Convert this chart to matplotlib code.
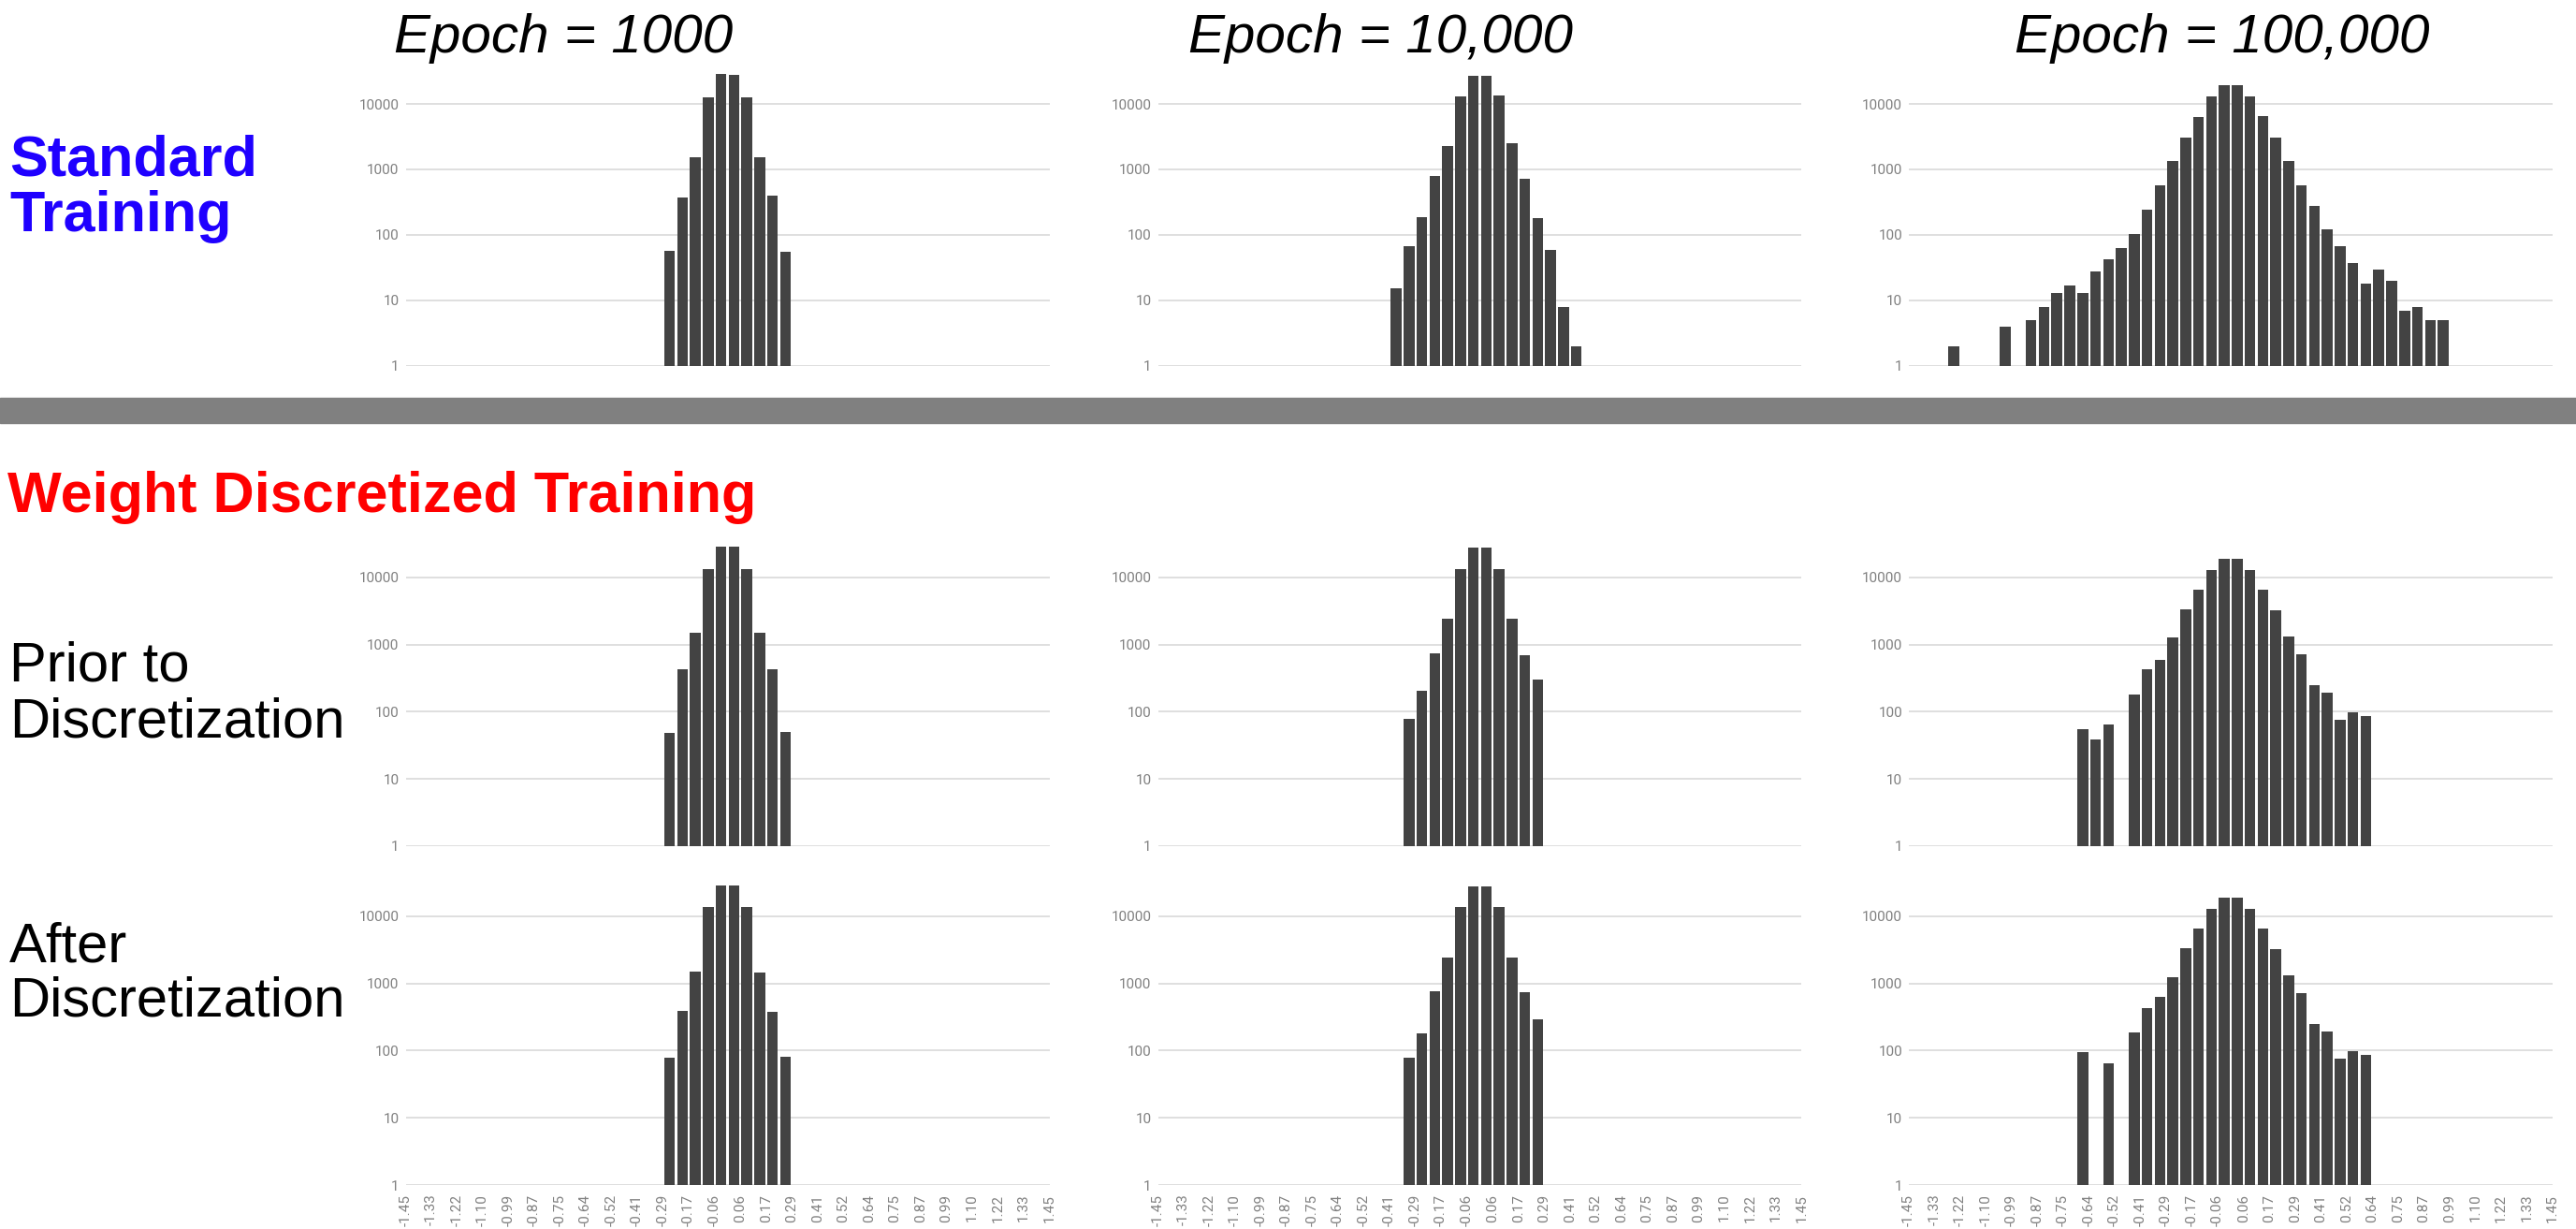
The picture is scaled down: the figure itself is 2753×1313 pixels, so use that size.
import matplotlib.pyplot as plt
from matplotlib.patches import Rectangle
import numpy as np

# 50 bins of width 0.058 from -1.45 to 1.45, labels on every second edge
edge_labels = ['-1.45', '-1.33', '-1.22', '-1.10', '-0.99', '-0.87', '-0.75', '-0.64', '-0.52',
               '-0.41', '-0.29', '-0.17', '-0.06', '0.06', '0.17', '0.29', '0.41', '0.52',
               '0.64', '0.75', '0.87', '0.99', '1.10', '1.22', '1.33', '1.45']
n_bins = 50

epoch_titles = ['Epoch = 1000', 'Epoch = 10,000', 'Epoch = 100,000']

# counts per bin, first value sits in bin "start"
std_1000_start = 20
std_1000 = [57, 370, 1535, 12800, 29000, 28100, 12800, 1550, 403, 55]
std_10000_start = 18
std_10000 = [15, 67, 189, 786, 2300, 13150, 27100, 27100, 13600, 2485, 720, 181, 58, 8, 2]
std_100000_start = 3
std_100000 = [2, 0, 0, 0, 4, 0, 5, 8, 13, 17, 13, 28, 43, 63, 103, 242, 575, 1356, 3085,
              6240, 12870, 19300, 19300, 12870, 6630, 3085, 1356, 565, 276, 121, 68, 37,
              18, 29, 20, 7, 8, 5, 5]

prior_1000_start = 20
prior_1000 = [48, 429, 1500, 13500, 28900, 28900, 13500, 1500, 429, 50]
prior_10000_start = 19
prior_10000 = [78, 207, 741, 2405, 13500, 28000, 28000, 13500, 2405, 703, 305]
prior_100000_start = 13
prior_100000 = [54, 38, 64, 0, 182, 424, 598, 1280, 3355, 6590, 12930, 19220, 19220, 12930,
                6590, 3250, 1335, 710, 246, 190, 76, 97, 86]

after_1000_start = 20
after_1000 = [78, 388, 1477, 13490, 28500, 28500, 13490, 1430, 376, 82]
after_10000_start = 19
after_10000 = [78, 180, 762, 2390, 13490, 27300, 27300, 13490, 2390, 730, 288]
after_100000_start = 13
after_100000 = [94, 0, 64, 0, 184, 428, 622, 1231, 3363, 6590, 12920, 18980, 18980, 12920,
                 6590, 3225, 1327, 714, 245, 192, 76, 98, 87]

rows = [
    [(std_1000_start, std_1000), (std_10000_start, std_10000), (std_100000_start, std_100000)],
    [(prior_1000_start, prior_1000), (prior_10000_start, prior_10000), (prior_100000_start, prior_100000)],
    [(after_1000_start, after_1000), (after_10000_start, after_10000), (after_100000_start, after_100000)],
]

W, H = 2753, 1313
fig = plt.figure(figsize=(W / 100, H / 100), dpi=100)

# axes placement in pixels: left edges, width, bottom of each row, px per decade
col_left = [433.5, 1237.5, 2040]
col_width = 688
row_bottom = [390.7, 903.7, 1266]
row_decade = [69.9, 71.7, 71.8]
top_exp = 4.6

bar_color = '#434343'
grid_color = '#d9d9d9'
tick_color = '#808080'

for r, row in enumerate(rows):
    for c, (start, counts) in enumerate(row):
        h = top_exp * row_decade[r]
        ax = fig.add_axes([col_left[c] / W, 1 - row_bottom[r] / H, col_width / W, h / H])
        counts = np.array(counts, dtype=float)
        pos = start + np.arange(len(counts)) + 0.5
        keep = counts > 0
        ax.set_yscale('log')
        ax.bar(pos[keep], counts[keep], width=0.84, color=bar_color, zorder=3)
        ax.set_ylim(1, 10 ** top_exp)
        ax.set_xlim(0, n_bins)
        ax.set_yticks([1, 10, 100, 1000, 10000])
        ax.set_yticklabels(['1', '10', '100', '1000', '10000'])
        ax.yaxis.set_minor_locator(plt.NullLocator())
        ax.grid(axis='y', color=grid_color, linewidth=1.2, zorder=0)
        for s in ax.spines.values():
            s.set_visible(False)
        ax.tick_params(axis='y', length=0, pad=5, labelsize=11, labelcolor=tick_color)
        ax.set_xticks(np.arange(0, n_bins + 1, 2))
        if r == 2:
            ax.set_xticklabels(edge_labels, rotation=90, fontsize=11, color=tick_color)
            ax.tick_params(axis='x', length=0, pad=7)
        else:
            ax.set_xticklabels([])
            ax.tick_params(axis='x', length=0)
        for lab in ax.get_xticklabels() + ax.get_yticklabels():
            lab.set_family('Roboto')

# column titles
title_x = [602, 1476, 2375]
for tx, t in zip(title_x, epoch_titles):
    fig.text(tx / W, 1 - 56 / H, t, ha='center', va='baseline', fontsize=42,
             style='italic', family='Liberation Sans')

# separator between the two groups
fig.patches.append(Rectangle((0, 1 - 452 / H), 1, 27 / H, transform=fig.transFigure,
                             color='#808080', zorder=0))

# row labels
fig.text(10 / W, 1 - 187 / H, 'Standard', fontsize=44, weight='bold', color='#1f00ff',
         family='Liberation Sans', va='baseline')
fig.text(10 / W, 1 - 247 / H, 'Training', fontsize=44, weight='bold', color='#1f00ff',
         family='Liberation Sans', va='baseline')
fig.text(8 / W, 1 - 547 / H, 'Weight Discretized Training', fontsize=44, weight='bold',
         color='#ff0000', family='Liberation Sans', va='baseline')
fig.text(10 / W, 1 - 727 / H, 'Prior to', fontsize=43, family='Liberation Sans', va='baseline')
fig.text(10 / W, 1 - 787 / H, 'Discretization', fontsize=43, family='Liberation Sans', va='baseline')
fig.text(10 / W, 1 - 1027 / H, 'After', fontsize=43, family='Liberation Sans', va='baseline')
fig.text(10 / W, 1 - 1085 / H, 'Discretization', fontsize=43, family='Liberation Sans', va='baseline')

fig.savefig('out.png', dpi=100)
